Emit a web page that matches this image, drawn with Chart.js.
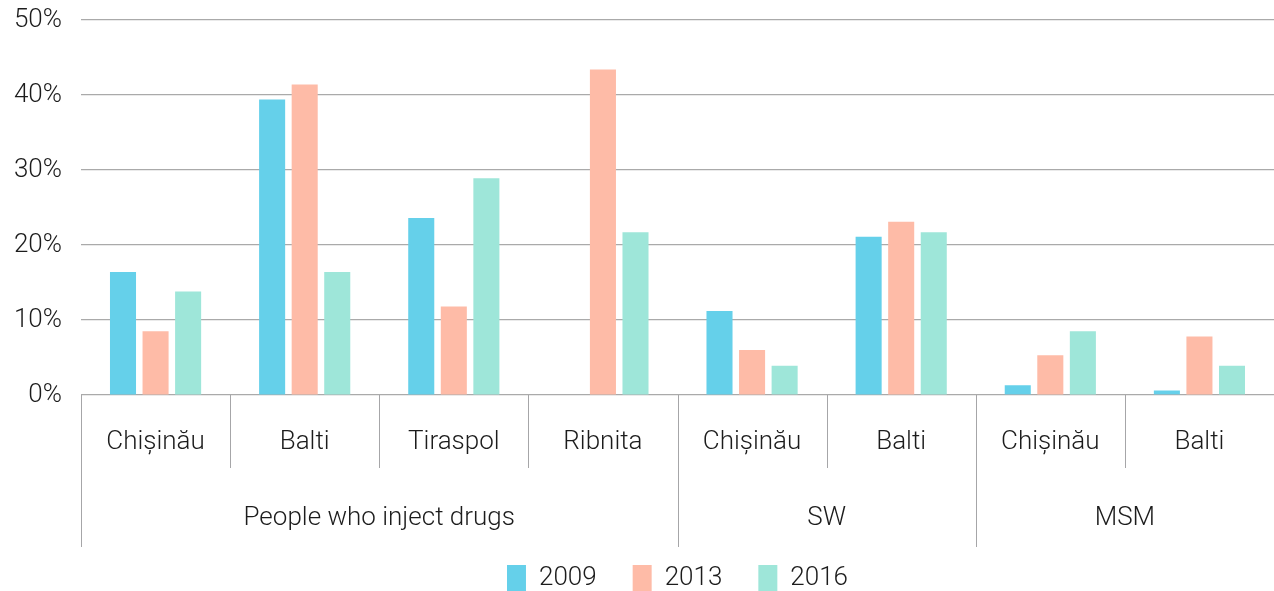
<!DOCTYPE html>
<html>
<head>
<meta charset="utf-8">
<script src="https://cdn.jsdelivr.net/npm/chart.js@4"></script>
<style>
  html, body { margin: 0; padding: 0; background: #fff; }
  #wrap { width: 1274px; height: 591px; }
</style>
</head>
<body>
<div id="wrap"><canvas id="chart"></canvas></div>
<script>
const categories = ['Chișinău', 'Balti', 'Tiraspol', 'Ribnita', 'Chișinău', 'Balti', 'Chișinău', 'Balti'];
const groupNames = ['People who inject drugs', 'SW', 'MSM'];
const groupSizes = [4, 2, 2];
const years = ['2009', '2013', '2016'];
const values2009 = [16.4, 39.4, 23.6, null, 11.2, 21.1, 1.3, 0.6];
const values2013 = [8.5, 41.4, 11.8, 43.4, 6.0, 23.1, 5.3, 7.8];
const values2016 = [13.8, 16.4, 28.9, 21.7, 3.9, 21.7, 8.5, 3.9];
const yTicks = [0, 10, 20, 30, 40, 50];

const colors = ['#65d0ea', '#febba7', '#9ee6d9'];
const FONT = "'Helvetica Neue', Roboto, 'Liberation Sans', sans-serif";
const textFont = { family: FONT, size: 26, weight: '300' };
const lineColor = '#a6a6a8';

// separators between categories and the group labels underneath
const groupAxis = {
  id: 'groupAxis',
  afterLayout(chart) {
    // center the legend under the plot area rather than the canvas
    if (chart.legend) {
      chart.legend.left = chart.chartArea.left;
      chart.legend.right = chart.chartArea.right;
    }
  },
  afterDraw(chart) {
    const x = chart.scales.x;
    const ctx = chart.ctx;
    const n = categories.length;
    const top = x.top;
    const bound = (i) => {
      if (i === 0) return x.left;
      if (i === n) return x.right;
      return (x.getPixelForValue(i - 1) + x.getPixelForValue(i)) / 2;
    };
    const groupStarts = [0];
    groupSizes.forEach((s, k) => groupStarts.push(groupStarts[k] + s));

    ctx.save();
    ctx.strokeStyle = lineColor;
    ctx.lineWidth = 1;
    for (let i = 0; i < n; i++) {
      const px = Math.round(bound(i)) + 0.5;
      const long = groupStarts.includes(i);
      ctx.beginPath();
      ctx.moveTo(px, top);
      ctx.lineTo(px, top + (long ? 152 : 73));
      ctx.stroke();
    }
    ctx.fillStyle = '#1c1c1c';
    ctx.font = `${textFont.weight} ${textFont.size}px ${FONT}`;
    ctx.textAlign = 'center';
    ctx.textBaseline = 'middle';
    groupNames.forEach((name, k) => {
      const cx = (bound(groupStarts[k]) + bound(groupStarts[k + 1])) / 2;
      ctx.fillText(name, cx, top + 123);
    });
    ctx.restore();
  }
};

new Chart(document.getElementById('chart'), {
  type: 'bar',
  data: {
    labels: categories,
    datasets: [values2009, values2013, values2016].map((vals, i) => ({
      label: years[i],
      data: vals,
      backgroundColor: colors[i],
      borderWidth: 0,
      categoryPercentage: 0.655,
      barPercentage: 0.8
    }))
  },
  options: {
    responsive: true,
    maintainAspectRatio: false,
    animation: false,
    // legend sits low, its squares run off the bottom edge
    layout: { padding: { top: 0, left: 0, right: 0, bottom: -10 } },
    plugins: {
      tooltip: { enabled: false },
      legend: {
        position: 'bottom',
        labels: {
          boxWidth: 19,
          boxHeight: 26,
          padding: 36,
          color: '#1c1c1c',
          font: textFont
        }
      }
    },
    scales: {
      x: {
        grid: { display: false },
        border: { display: false },
        ticks: {
          color: '#1c1c1c',
          padding: 24,
          maxRotation: 0,
          autoSkip: false,
          font: textFont
        },
        afterFit(scale) { scale.height = 134; }
      },
      y: {
        min: 0,
        max: 50,
        afterBuildTicks(scale) { scale.ticks = yTicks.map((v) => ({ value: v })); },
        grid: { color: '#aaaaaa', lineWidth: 1.2, drawTicks: false },
        border: { display: false },
        ticks: {
          color: '#1c1c1c',
          padding: 19,
          font: textFont,
          callback: (v) => v + '%'
        },
        afterFit(scale) {
          scale.width = 81;
          scale.paddingTop = 20;
          scale.paddingBottom = 0;
        }
      }
    }
  },
  plugins: [groupAxis]
});
</script>
</body>
</html>
